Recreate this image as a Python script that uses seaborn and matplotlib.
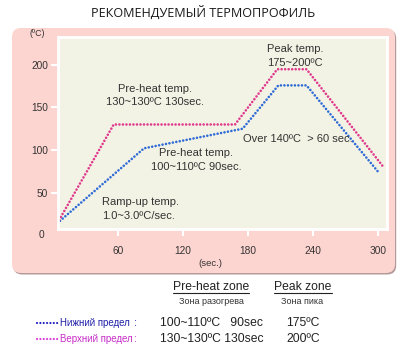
import matplotlib
matplotlib.use("Agg")
import matplotlib.pyplot as plt
import seaborn as sns
import pandas as pd
from matplotlib.patches import FancyBboxPatch
from matplotlib.lines import Line2D
import matplotlib.transforms as mtransforms

# Reflow profile: lower and upper limit curves (time in sec, temperature in ºC)
time_low = [4, 84, 175, 208, 234, 301]
temp_low = [14, 102, 125, 176, 176, 73]
time_up = [4, 56, 168, 207, 234, 305]
temp_up = [14, 130, 130, 195, 195, 80]

x_ticks = [60, 120, 180, 240, 300]
y_ticks = [50, 100, 150, 200]

limit_names = ["Нижний предел", "Верхний предел"]
preheat_values = ["100~110ºC   90sec", "130~130ºC 130sec"]
peak_values = ["175ºC", "200ºC"]

BLUE = "#2f6bd6"
PINK = "#e0388c"
TXT = "#333333"

sns.set_theme(style="white")
plt.rcParams["font.family"] = ["Liberation Sans", "DejaVu Sans"]

W, H = 401, 350
fig = plt.figure(figsize=(W / 100, H / 100), dpi=100)
fig.patch.set_facecolor("white")


def fx(x):
    return x / W


def fy(y):
    return 1 - y / H


# rounded pink panel with a soft shadow
inch = fig.dpi_scale_trans
shadow = FancyBboxPatch((0.132, 0.755), 3.83, 2.45,
                        boxstyle="round,pad=0,rounding_size=0.09",
                        transform=inch, facecolor="#b49a9a", edgecolor="none",
                        zorder=0)
panel = FancyBboxPatch((0.12, 0.77), 3.83, 2.45,
                       boxstyle="round,pad=0,rounding_size=0.09",
                       transform=inch, facecolor="#fdd5d0", edgecolor="none",
                       zorder=0.1)
fig.add_artist(shadow)
fig.add_artist(panel)

ax = fig.add_axes([fx(58), 121 / H, 329 / W, 192 / H])
ax.set_zorder(2)
ax.set_facecolor("#f3f3e5")

df = pd.DataFrame({
    "time": time_low + time_up,
    "temp": temp_low + temp_up,
    "limit": ["low"] * len(time_low) + ["up"] * len(time_up),
})
sns.lineplot(data=df, x="time", y="temp", hue="limit",
             palette={"low": BLUE, "up": PINK}, estimator=None, sort=False,
             legend=False, lw=1.9, ax=ax)
for ln in ax.lines:
    ln.set_linestyle((0, (0.01, 1.32)))
    ln.set_dash_capstyle("round")

ax.set_xlim(4.6, 308.3)
ax.set_ylim(7.1, 232.9)
ax.set_xticks(x_ticks)
ax.set_yticks(y_ticks)
ax.set_xlabel("")
ax.set_ylabel("")
for s in ax.spines.values():
    s.set_visible(True)
    s.set_color("white")
    s.set_linewidth(2)
ax.tick_params(axis="both", which="major", direction="out", length=5, width=1.5,
               color="white", labelsize=7.3, labelcolor=TXT,
               bottom=True, left=True)
ax.tick_params(axis="x", pad=7)
ax.tick_params(axis="y", pad=2)

# "0" sits below the visible range of the y axis
blend = mtransforms.blended_transform_factory(ax.transAxes, ax.transData)
ax.text(-0.049, 0, "0", transform=blend, ha="center", va="center",
        fontsize=7.3, color=TXT, clip_on=False)
fig.text(fx(37), fy(34), "(ºC)", ha="center", va="center", fontsize=6.3, color=TXT)
fig.text(fx(210), fy(264), "(sec.)", ha="center", va="center", fontsize=6.8, color=TXT)

# annotations inside the plot
def atext(xp, yp, s, ha="center"):
    fig.text(fx(xp), fy(yp), s, ha=ha, va="center", fontsize=8, color=TXT,
             zorder=5)

atext(155, 89, "Pre-heat temp.")
atext(155, 102, "130~130ºC 130sec.")
atext(295, 49, "Peak temp.")
atext(295, 63, "175~200ºC")
atext(243, 139, "Over 140ºC  > 60 sec.", ha="left")
atext(196, 153, "Pre-heat temp.")
atext(196, 167, "100~110ºC 90sec.")
atext(102, 202, "Ramp-up temp.", ha="left")
atext(102, 216, "1.0~3.0ºC/sec.", ha="left")

# title
fig.text(fx(203), fy(13), "РЕКОМЕНДУЕМЫЙ ТЕРМОПРОФИЛЬ", ha="center", va="center",
         fontsize=9.1, color="#1a1a1a", family=["Open Sans", "DejaVu Sans"])

# zone table under the chart
h1 = fig.text(fx(211), fy(287), "Pre-heat zone", ha="center", va="center",
              fontsize=8.7, color="#222222")
h2 = fig.text(fx(303), fy(287), "Peak zone", ha="center", va="center",
              fontsize=8.7, color="#222222")
fig.text(fx(211), fy(302), "Зона разогрева", ha="center", va="center",
         fontsize=6.5, color="#333333")
fig.text(fx(302), fy(302), "Зона пика", ha="center", va="center",
         fontsize=6.5, color="#333333")

leg_colors = ["#2424c4", "#d83ad8"]
leg_text_colors = ["#1e1ea8", "#c82cc8"]
rows_y = [323, 339]
for i in range(2):
    y = rows_y[i]
    fig.add_artist(Line2D([fx(37), fx(58)], [fy(y), fy(y)], color=leg_colors[i],
                          lw=1.6, linestyle=(0, (0.01, 1.5)),
                          dash_capstyle="round", transform=fig.transFigure))
    fig.text(fx(60), fy(y), limit_names[i], ha="left", va="center",
             fontsize=7, color=leg_text_colors[i])
    fig.text(fx(134), fy(y), ":", ha="left", va="center", fontsize=8,
             color=leg_text_colors[i])
    fig.text(fx(160), fy(y), preheat_values[i], ha="left", va="center",
             fontsize=8.7, color="#222222")
    fig.text(fx(303), fy(y), peak_values[i], ha="center", va="center",
             fontsize=8.7, color="#222222")

# underline the two zone headers
fig.canvas.draw()
renderer = fig.canvas.get_renderer()
for t in (h1, h2):
    bb = t.get_window_extent(renderer).transformed(fig.transFigure.inverted())
    fig.add_artist(Line2D([bb.x0, bb.x1], [bb.y0, bb.y0], color="#222222",
                          lw=0.8, transform=fig.transFigure))

fig.savefig("out.png", dpi=100, facecolor="white")
